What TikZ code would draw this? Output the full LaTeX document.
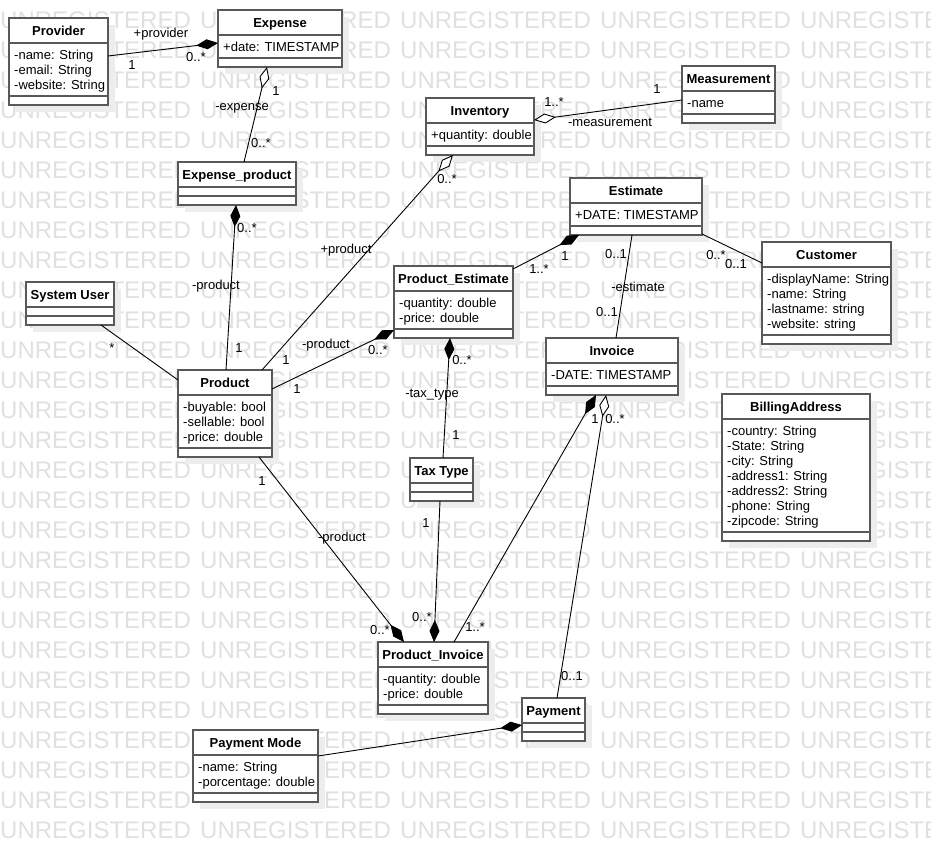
\documentclass[tikz,border=0pt]{standalone}
\usepackage{fontspec}
\setmainfont{Liberation Sans}
\usetikzlibrary{calc,arrows.meta,shadows}

\tikzset{
  classbox/.style={draw=black!65, line width=1.6pt, fill=white, anchor=north west, inner sep=0pt, outer sep=0pt,
    general shadow={fill=black!7, shadow xshift=7pt, shadow yshift=-7pt}},
  classline/.style={draw=black!65, line width=1.6pt},
  classtitle/.style={font=\fontsize{13}{15}\selectfont\bfseries, anchor=base, inner sep=0pt},
  classattr/.style={font=\fontsize{13}{15}\selectfont, anchor=north west, align=left, inner sep=0pt},
  assoc/.style={line width=0.9pt},
  comp/.style={assoc, {Diamond[length=22pt, width=10pt]}-},
  aggr/.style={assoc, {Diamond[open, fill=white, length=22pt, width=10pt]}-},
  lab/.style={font=\fontsize{13}{15}\selectfont, inner sep=0pt},
  watermark/.style={font=\fontsize{24}{28}\selectfont, text=black!12, anchor=west, inner sep=0pt}
}

\newcommand{\umlclass}[7]{%
  \pgfmathsetmacro{\attrh}{#5==0 ? 9 : #5*15+8}
  \node[classbox, minimum width=#4pt, minimum height={(34+\attrh)*1pt}] (#1) at (#2,#3) {};
  \node[classtitle] (#1-title) at ($(#1.north)+(0,17.5)$) {#6};
  \draw[classline] ($(#1.north west)+(0,25)$) -- ($(#1.north east)+(0,25)$);
  \draw[classline] ($(#1.north west)+(0,25+\attrh)$) -- ($(#1.north east)+(0,25+\attrh)$);
  \node[classattr] (#1-attr) at ($(#1.north west)+(5,31)$) {\rule{0pt}{10pt}#7};
}

\begin{document}
\begin{tikzpicture}[x=1pt, y=-1pt]
  \useasboundingbox (0,0) rectangle (931,842);
  \foreach \r in {0,...,27}
    \foreach \c in {0,...,4}
      \node[watermark] (wm-\r-\c) at (\c*200, 20+\r*30) {UNREGISTERED};

  \umlclass{provider}{9}{18}{99}{3}{Provider}{-name: String\\-email: String\\-website: String}
  \umlclass{expense}{218}{10}{124}{1}{Expense}{+date: TIMESTAMP}
  \umlclass{expproduct}{178}{162}{118}{0}{Expense\_product}{}
  \umlclass{inventory}{426}{98}{108}{1}{Inventory}{+quantity: double}
  \umlclass{measurement}{682}{66}{93}{1}{Measurement}{-name}
  \umlclass{estimate}{570}{178}{132}{1}{Estimate}{+DATE: TIMESTAMP}
  \umlclass{prodestimate}{394}{266}{119}{2}{Product\_Estimate}{-quantity: double\\-price: double}
  \umlclass{customer}{762}{242}{129}{4}{Customer}{-displayName: String\\-name: String\\-lastname: string\\-website: string}
  \umlclass{invoice}{546}{338}{132}{1}{Invoice}{-DATE: TIMESTAMP}
  \umlclass{billing}{722}{394}{148}{7}{BillingAddress}{-country: String\\-State: String\\-city: String\\-address1: String\\-address2: String\\-phone: String\\-zipcode: String}
  \umlclass{taxtype}{410}{458}{63}{0}{Tax Type}{}
  \umlclass{sysuser}{26}{282}{88}{0}{System User}{}
  \umlclass{product}{178}{370}{94}{3}{Product}{-buyable: bool\\-sellable: bool\\-price: double}
  \umlclass{prodinvoice}{378}{642}{110}{2}{Product\_Invoice}{-quantity: double\\-price: double}
  \umlclass{payment}{522}{698}{63}{0}{Payment}{}
  \umlclass{paymode}{193}{730}{125}{2}{Payment Mode}{-name: String\\-porcentage: double}

  \draw[comp] ($(expense.north west)+(0,33)$) -- ($(provider.north west)+(99,38)$);
  \draw[aggr] ($(expense.north west)+(49,57)$) -- ($(expproduct.north west)+(66,0)$);
  \draw[comp] ($(expproduct.north west)+(58,43)$) -- ($(product.north west)+(48,0)$);
  \draw[aggr] ($(inventory.north west)+(27,57)$) -- ($(product.north west)+(84,0)$);
  \draw[aggr] ($(inventory.north west)+(108,22)$) -- ($(measurement.north west)+(0,34)$);
  \draw[comp] ($(prodestimate.north west)+(0,64)$) -- ($(product.north west)+(94,19)$);
  \draw[comp] ($(estimate.north west)+(9,57)$) -- ($(prodestimate.north west)+(119,3)$);
  \draw[assoc] ($(estimate.north west)+(62,57)$) -- ($(invoice.north west)+(70,0)$);
  \draw[assoc] ($(estimate.north west)+(132,56)$) -- ($(customer.north west)+(0,21)$);
  \draw[comp] ($(prodestimate.north west)+(56,72)$) -- ($(taxtype.north west)+(33,0)$);
  \draw[comp] ($(prodinvoice.north west)+(26,0)$) -- ($(product.north west)+(81,87)$);
  \draw[comp] ($(prodinvoice.north west)+(56,0)$) -- ($(taxtype.north west)+(30,43)$);
  \draw[comp] ($(invoice.north west)+(50,57)$) -- ($(prodinvoice.north west)+(76,0)$);
  \draw[aggr] ($(invoice.north west)+(60,57)$) -- ($(payment.north west)+(35,0)$);
  \draw[comp] ($(payment.north west)+(0,27)$) -- ($(paymode.north west)+(125,26)$);
  \draw[assoc] ($(sysuser.north west)+(75,43)$) -- ($(product.north west)+(0,10)$);

  \node[lab] (prov-role) at (161,34) {+provider};
  \node[lab] (prov-m1) at (132,65) {1};
  \node[lab] (prov-m2) at (196,57) {0..*};
  \node[lab] (exp-m1) at (276,91) {1};
  \node[lab] (exp-role) at (242,108) {-expense};
  \node[lab] (exp-m2) at (261,143) {0..*};
  \node[lab] (ep-m1) at (247,228) {0..*};
  \node[lab] (ep-role) at (216,286) {-product};
  \node[lab] (ep-m2) at (239,348) {1};
  \node[lab] (inv-m1) at (447,179) {0..*};
  \node[lab] (inv-role) at (346,250) {+product};
  \node[lab] (inv-m2) at (286,360) {1};
  \node[lab] (meas-m1) at (657,89) {1};
  \node[lab] (meas-m2) at (554,102) {1..*};
  \node[lab] (meas-role) at (610,122) {-measurement};
  \node[lab] (pe-role) at (326,345) {-product};
  \node[lab] (pe-m1) at (378,350) {0..*};
  \node[lab] (pe-m2) at (297,389) {1};
  \node[lab] (est-m1) at (565,256) {1};
  \node[lab] (est-m2) at (539,269) {1..*};
  \node[lab] (ei-m1) at (616,254) {0..1};
  \node[lab] (ei-role) at (638,287) {-estimate};
  \node[lab] (ei-m2) at (607,312) {0..1};
  \node[lab] (ec-m1) at (716,255) {0..*};
  \node[lab] (ec-m2) at (736,264) {0..1};
  \node[lab] (tax-m1) at (462,360) {0..*};
  \node[lab] (tax-role) at (432,395) {-tax\_type};
  \node[lab] (tax-m2) at (456,435) {1};
  \node[lab] (pi-m1) at (262,481) {1};
  \node[lab] (pi-role) at (342,538) {-product};
  \node[lab] (pi-m2) at (380,630) {0..*};
  \node[lab] (ti-m1) at (426,523) {1};
  \node[lab] (ti-m2) at (422,617) {0..*};
  \node[lab] (ii-m1) at (595,419) {1};
  \node[lab] (ii-m2) at (475,627) {1..*};
  \node[lab] (pay-m1) at (615,419) {0..*};
  \node[lab] (pay-m2) at (572,676) {0..1};
  \node[lab] (user-m1) at (112,348) {*};
\end{tikzpicture}
\end{document}
